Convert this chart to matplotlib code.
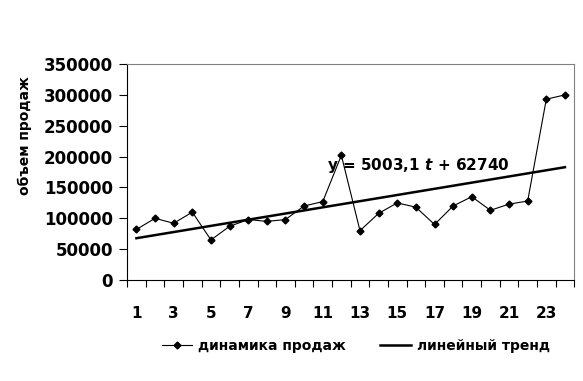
import numpy as np
import matplotlib
matplotlib.use("Agg")
import matplotlib.pyplot as plt
from matplotlib.lines import Line2D

# ============================== Données

periods = np.arange(1, 25)
sales = [82000, 100000, 92000, 110000, 65000, 87000, 98000, 95000, 98000, 120000,
         127000, 202000, 80000, 108000, 125000, 118000, 90000, 120000, 135000, 113000,
         123000, 128000, 293000, 300000]
trend_a = 5003.1
trend_b = 62740
y_ticks = [0, 50000, 100000, 150000, 200000, 250000, 300000, 350000]
x_labels = [str(i) for i in range(1, 25, 2)]

trend = trend_a * periods + trend_b

# ============================== Figure

plt.rcParams["font.family"] = ["DejaVu Sans"]
plt.rcParams["font.weight"] = "bold"

fig = plt.figure(figsize=(5.83, 3.81), dpi=100)
ax = fig.add_axes([0.218, 0.265, 0.767, 0.567])

ax.plot(periods, sales, color="black", linewidth=0.8, marker="D", markersize=3.5,
        label="динамика продаж")
ax.plot(periods, trend, color="black", linewidth=1.8, label="линейный тренд")

ax.set_xlim(0.5, 24.5)
ax.set_ylim(0, 350000)
ax.set_yticks(y_ticks)
ax.set_yticklabels([str(v) for v in y_ticks], fontsize=12, fontweight="bold")

# ticks entre catégories, labels une sur deux
ax.set_xticks(np.arange(0.5, 25, 1))
ax.set_xticklabels([])
ax.set_xticks(np.arange(1, 25, 2), minor=True)
ax.set_xticklabels(x_labels, minor=True, fontsize=11, fontweight="bold")
ax.tick_params(axis="x", which="major", length=5, direction="out", width=0.8)
ax.tick_params(axis="x", which="minor", length=0, pad=19)
ax.tick_params(axis="y", length=6, direction="out", width=0.8, pad=4)

for side in ("top", "right"):
    ax.spines[side].set_color("#808080")
for side in ("left", "bottom"):
    ax.spines[side].set_color("black")

ax.set_ylabel("объем продаж", fontsize=10, fontweight="bold")
ax.yaxis.set_label_coords(-0.212, 0.67)

ax.text(11.25, 186000, r"y = 5003,1 $\mathit{t}$ + 62740", fontsize=11,
        fontweight="bold", va="center", ha="left")

handles = [
    Line2D([], [], color="black", linewidth=0.8, marker="D", markersize=3.5),
    Line2D([], [], color="black", linewidth=1.8),
]
fig.legend(handles, ["динамика продаж", "линейный тренд"], loc="center",
           bbox_to_anchor=(0.61, 0.092), ncol=2, frameon=False,
           prop={"size": 10, "weight": "bold"}, handlelength=2.2,
           handletextpad=0.4, columnspacing=2.5)

fig.savefig("out.png", dpi=100)
